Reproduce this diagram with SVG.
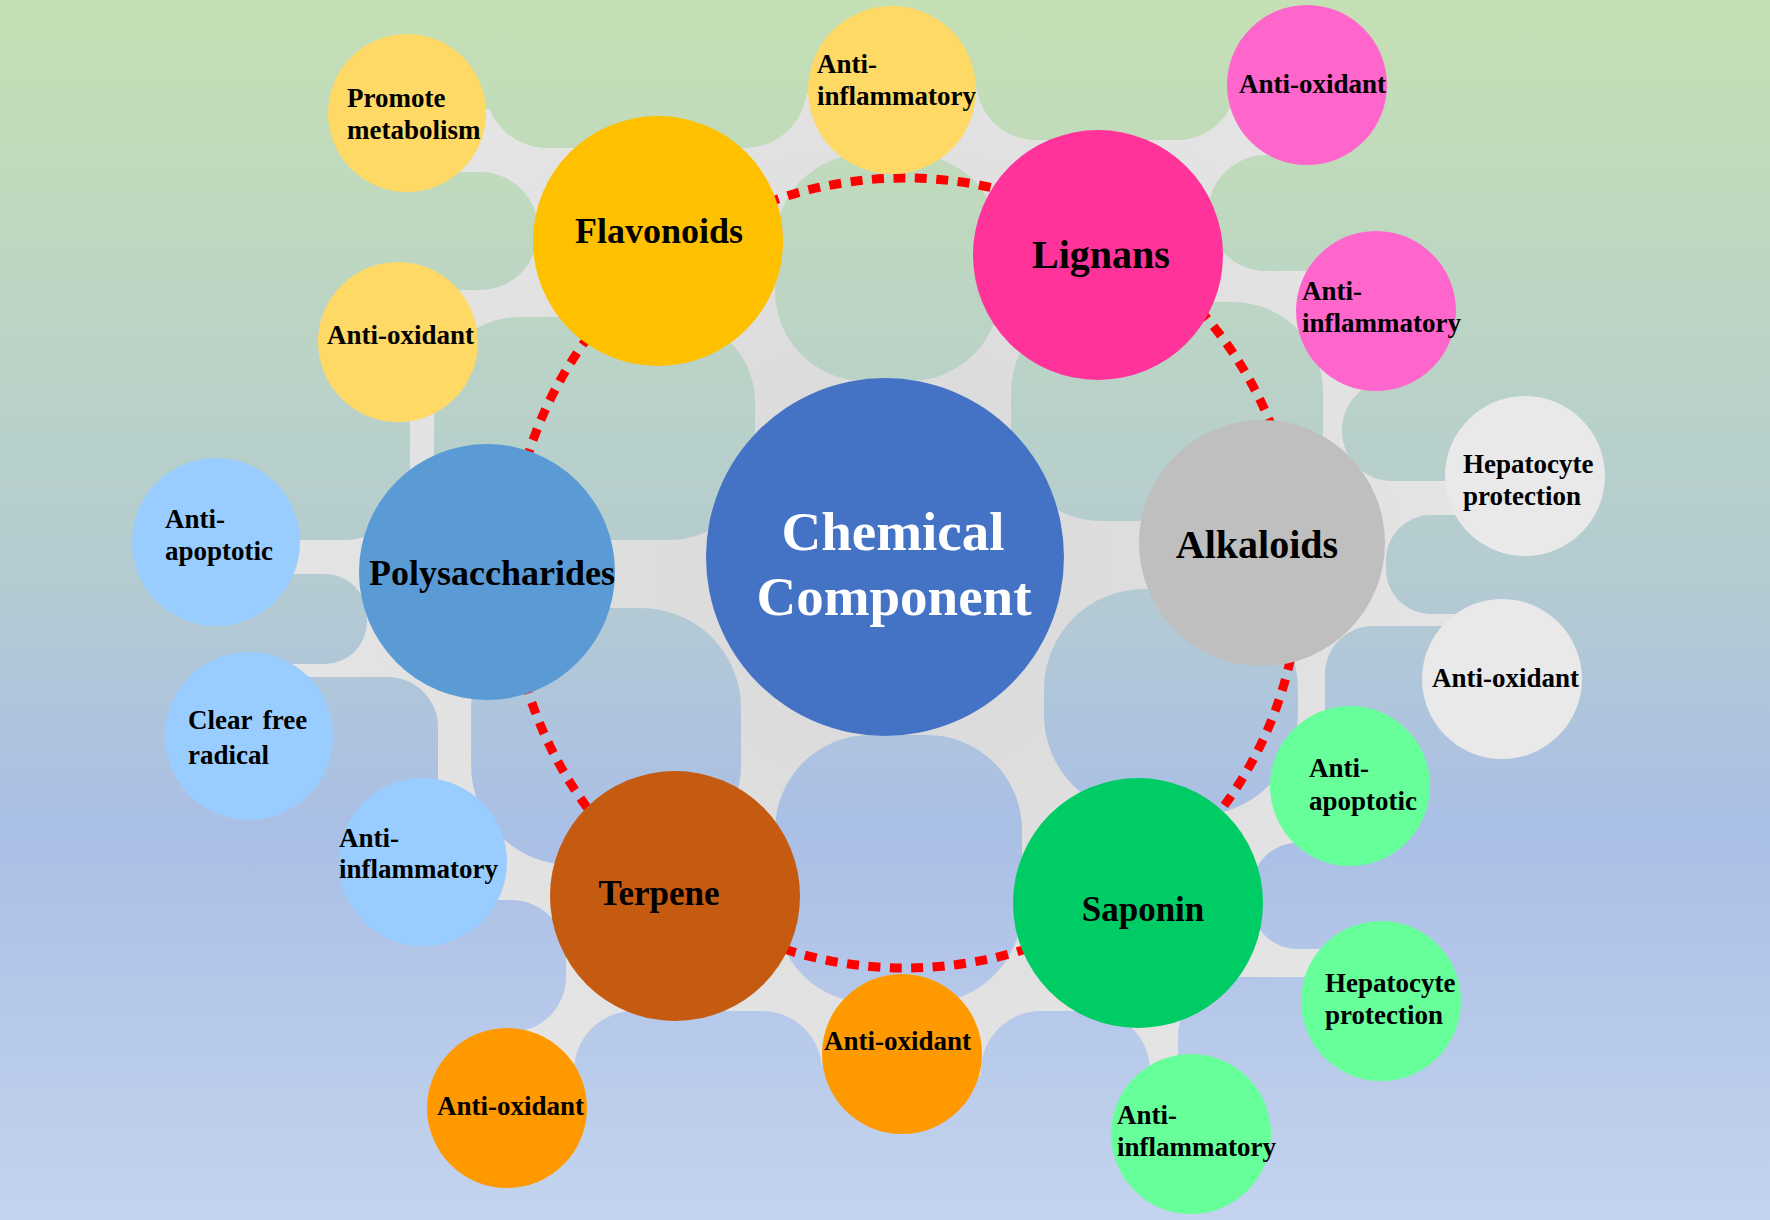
<svg xmlns="http://www.w3.org/2000/svg" width="1770" height="1220" viewBox="0 0 1770 1220">
<defs>
<linearGradient id="bg" gradientUnits="userSpaceOnUse" x1="0" y1="0" x2="0" y2="1220">
<stop offset="0" stop-color="#c5e0b4"/>
<stop offset="0.48" stop-color="#b4cbd2"/>
<stop offset="0.68" stop-color="#aabfe6"/>
<stop offset="1" stop-color="#c4d4ee"/>
</linearGradient>
<radialGradient id="gr" gradientUnits="userSpaceOnUse" cx="885" cy="560" r="760">
<stop offset="0" stop-color="#d8d8d8"/>
<stop offset="0.55" stop-color="#e1e1e1"/>
<stop offset="1" stop-color="#e8e8e8"/>
</radialGradient>
<style>
.hole{fill:url(#bg)}
.t{font-family:"Liberation Serif","Times New Roman",serif;font-weight:bold;fill:#000}
.s{font-size:27px}
.b{text-anchor:middle}
.w{fill:#fff}
.ring{fill:none;stroke:#ff0000;stroke-width:9;stroke-dasharray:12 9.5}
</style>
</defs>
<rect x="0" y="0" width="1770" height="1220" fill="url(#bg)"/>
<g id="membrane">
<polygon fill="url(#gr)" points="407,113 892,90 1307,85 1376,311 1525,476 1502,679 1350,786 1381,1001 1191,1134 902,1054 507,1108 423,862 249,736 216,542 398,342"/>
<rect class="hole" x="775" y="154" width="225" height="227" rx="90"/>
<rect class="hole" x="434" y="317" width="321" height="223" rx="85"/>
<rect class="hole" x="471" y="608" width="270" height="257" rx="100"/>
<rect class="hole" x="775" y="735" width="247" height="268" rx="95"/>
<rect class="hole" x="1044" y="589" width="254" height="226" rx="100"/>
<rect class="hole" x="1011" y="302" width="312" height="219" rx="90"/>
<rect class="hole" x="200" y="172" width="338" height="118" rx="58"/>
<rect class="hole" x="485" y="-100" width="322" height="248" rx="62"/>
<rect class="hole" x="976" y="-100" width="261" height="240" rx="60"/>
<rect class="hole" x="1208" y="155" width="300" height="116" rx="58"/>
<rect class="hole" x="1342" y="380" width="300" height="101" rx="50"/>
<rect class="hole" x="1410" y="290" width="300" height="160"/>
<rect class="hole" x="1386" y="515" width="300" height="99" rx="45"/>
<rect class="hole" x="1325" y="626" width="300" height="194" rx="48"/>
<rect class="hole" x="1252" y="843" width="350" height="106" rx="45"/>
<rect class="hole" x="1178" y="977" width="420" height="323" rx="60"/>
<rect class="hole" x="981" y="1011" width="169" height="289" rx="60"/>
<rect class="hole" x="574" y="1011" width="248" height="289" rx="60"/>
<rect class="hole" x="300" y="900" width="266" height="132" rx="55"/>
<rect class="hole" x="100" y="677" width="338" height="323" rx="50"/>
<rect class="hole" x="100" y="574" width="267" height="90" rx="42"/>
<rect class="hole" x="0" y="300" width="410" height="240" rx="65"/>
</g>
<g id="connectors">
<circle class="ring" cx="905" cy="573" r="395"/>
</g>
<g id="node-chemical">
<circle cx="885" cy="557" r="179" fill="#4472c4"/>
<text class="t b w" x="893" y="550" font-size="55">Chemical</text>
<text class="t b w" x="894" y="615" font-size="55">Component</text>
</g>
<g id="node-flavonoids">
<circle cx="658" cy="241" r="125" fill="#ffc000"/>
<text class="t b" x="659" y="243" font-size="36">Flavonoids</text>
</g>
<g id="node-lignans">
<circle cx="1098" cy="255" r="125" fill="#ff3399"/>
<text class="t b" x="1101" y="268" font-size="40">Lignans</text>
</g>
<g id="node-alkaloids">
<circle cx="1262" cy="543" r="123" fill="#bfbfbf"/>
<text class="t b" x="1257" y="558" font-size="40">Alkaloids</text>
</g>
<g id="node-saponin">
<circle cx="1138" cy="903" r="125" fill="#00cc66"/>
<text class="t b" x="1143" y="921" font-size="35">Saponin</text>
</g>
<g id="node-terpene">
<circle cx="675" cy="896" r="125" fill="#c55a11"/>
<text class="t b" x="659" y="905" font-size="35">Terpene</text>
</g>
<g id="node-polysaccharides">
<circle cx="487" cy="572" r="128" fill="#5b9bd5"/>
<text class="t b" x="492" y="585" font-size="36">Polysaccharides</text>
</g>
<g id="node-fl-promote">
<circle cx="407" cy="113" r="79" fill="#ffd966"/>
<text class="t s" x="347" y="107">Promote</text>
<text class="t s" x="347" y="139">metabolism</text>
</g>
<g id="node-fl-antioxidant">
<circle cx="398" cy="342" r="80" fill="#ffd966"/>
<text class="t s" x="327" y="344">Anti-oxidant</text>
</g>
<g id="node-fl-antiinflammatory">
<circle cx="892" cy="90" r="84" fill="#ffd966"/>
<text class="t s" x="817" y="73">Anti-</text>
<text class="t s" x="817" y="105">inflammatory</text>
</g>
<g id="node-li-antioxidant">
<circle cx="1307" cy="85" r="80" fill="#ff66cc"/>
<text class="t s" x="1239" y="93">Anti-oxidant</text>
</g>
<g id="node-li-antiinflammatory">
<circle cx="1376" cy="311" r="80" fill="#ff66cc"/>
<text class="t s" x="1302" y="300">Anti-</text>
<text class="t s" x="1302" y="332">inflammatory</text>
</g>
<g id="node-al-hepatocyte">
<circle cx="1525" cy="476" r="80" fill="#e9e9e9"/>
<text class="t s" x="1463" y="473">Hepatocyte</text>
<text class="t s" x="1463" y="505">protection</text>
</g>
<g id="node-al-antioxidant">
<circle cx="1502" cy="679" r="80" fill="#e9e9e9"/>
<text class="t s" x="1432" y="687">Anti-oxidant</text>
</g>
<g id="node-sa-antiapoptotic">
<circle cx="1350" cy="786" r="80" fill="#66ff99"/>
<text class="t s" x="1309" y="777">Anti-</text>
<text class="t s" x="1309" y="810">apoptotic</text>
</g>
<g id="node-sa-hepatocyte">
<circle cx="1381" cy="1001" r="80" fill="#66ff99"/>
<text class="t s" x="1325" y="992">Hepatocyte</text>
<text class="t s" x="1325" y="1024">protection</text>
</g>
<g id="node-sa-antiinflammatory">
<circle cx="1191" cy="1134" r="80" fill="#66ff99"/>
<text class="t s" x="1117" y="1124">Anti-</text>
<text class="t s" x="1117" y="1156">inflammatory</text>
</g>
<g id="node-te-antioxidant-1">
<circle cx="902" cy="1054" r="80" fill="#ff9900"/>
<text class="t s" x="824" y="1050">Anti-oxidant</text>
</g>
<g id="node-te-antioxidant-2">
<circle cx="507" cy="1108" r="80" fill="#ff9900"/>
<text class="t s" x="437" y="1115">Anti-oxidant</text>
</g>
<g id="node-po-antiinflammatory">
<circle cx="423" cy="862" r="84" fill="#99ccff"/>
<text class="t s" x="339" y="847">Anti-</text>
<text class="t s" x="339" y="878">inflammatory</text>
</g>
<g id="node-po-clearfree">
<circle cx="249" cy="736" r="84" fill="#99ccff"/>
<text class="t s" x="188" y="729" word-spacing="4">Clear free</text>
<text class="t s" x="188" y="764">radical</text>
</g>
<g id="node-po-antiapoptotic">
<circle cx="216" cy="542" r="84" fill="#99ccff"/>
<text class="t s" x="165" y="528">Anti-</text>
<text class="t s" x="165" y="560">apoptotic</text>
</g>
</svg>
